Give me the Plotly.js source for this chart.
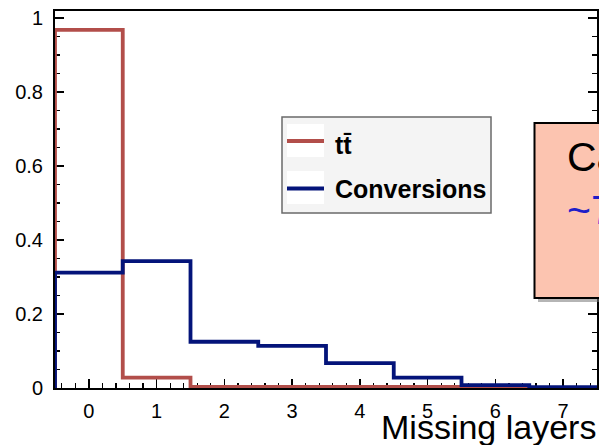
<!DOCTYPE html>
<html><head><meta charset="utf-8">
<script src="https://cdn.plot.ly/plotly-3.0.1.min.js"></script>
<style>html,body{margin:0;padding:0;background:#fff}#chart{width:599px;height:445px}</style>
</head><body><div id="chart"></div>
<script>
// ---- data ----
const bins = [0, 1, 2, 3, 4, 5, 6, 7];
const ttbar = [0.968, 0.028, 0.003, 0.003, 0.003, 0.003, 0.003, 0.0];
const conversions = [0.312, 0.343, 0.125, 0.114, 0.067, 0.028, 0.008, 0.002];
const seriesNames = ['t t\u0304', 'Conversions'];
const xTickVals = [0, 1, 2, 3, 4, 5, 6, 7];
const yTickVals = [0, 0.2, 0.4, 0.6, 0.8, 1];
const yTickText = ['0', '0.2', '0.4', '0.6', '0.8', '1'];
const xTitle = 'Missing layers';
const boxLine1 = 'Ca';
const boxLine2 = '~7';

// ---- helpers ----
function stepXY(centers, vals) {
  const xs = [centers[0] - 0.5], ys = [0];
  centers.forEach((c, i) => { xs.push(c - 0.5); ys.push(vals[i]); });
  const last = centers[centers.length - 1] + 0.5;
  xs.push(last); ys.push(vals[vals.length - 1]);
  xs.push(last); ys.push(0);
  return { xs, ys };
}
const PL = 55, PR = 597, PT = 11, PB = 388;
const px = x => (x - PL) / (PR - PL);
const py = y => (PB - y) / (PB - PT);

const RED = 'rgb(178,78,74)';
const BLUE = 'rgb(4,20,122)';

const s1 = stepXY(bins, ttbar);
const s2 = stepXY(bins, conversions);

const traces = [
  { x: s1.xs, y: s1.ys, type: 'scatter', mode: 'lines', line: { shape: 'hv', color: RED, width: 3.8 }, name: seriesNames[0] },
  { x: s2.xs, y: s2.ys, type: 'scatter', mode: 'lines', line: { shape: 'hv', color: BLUE, width: 3.8 }, name: seriesNames[1] }
];

function rect(x0, y0, x1, y1, fill, lc, lw) {
  return { type: 'rect', xref: 'paper', yref: 'paper', x0: px(x0), x1: px(x1), y0: py(y1), y1: py(y0),
    fillcolor: fill, line: { color: lc, width: lw }, layer: 'above' };
}
function hline(x0, x1, y, color, w) {
  return { type: 'line', xref: 'paper', yref: 'paper', x0: px(x0), x1: px(x1), y0: py(y), y1: py(y),
    line: { color: color, width: w }, layer: 'above' };
}

const shapes = [
  // legend box
  rect(282, 117, 491, 213, '#f4f4f4', '#6a6a6a', 1.5),
  rect(287, 124, 324, 157, '#ffffff', 'rgba(0,0,0,0)', 0),
  rect(287, 171, 324, 204, '#ffffff', 'rgba(0,0,0,0)', 0),
  hline(287, 324, 141, RED, 4),
  hline(287, 324, 188.5, BLUE, 4),
  // pink callout box with shadow
  rect(538, 127, 620, 302, 'rgba(120,120,120,0.55)', 'rgba(0,0,0,0)', 0),
  rect(534.5, 123, 620, 298, 'rgb(252,196,176)', '#000', 2)
];

const annotations = [
  { xref: 'paper', yref: 'paper', x: px(333), y: py(145), xanchor: 'left', yanchor: 'middle', showarrow: false,
    text: '<b>' + seriesNames[0].replace(' ', '') + '</b>', font: { size: 25, color: '#000', family: 'Liberation Sans, Arial, sans-serif' } },
  { xref: 'paper', yref: 'paper', x: px(333), y: py(189), xanchor: 'left', yanchor: 'middle', showarrow: false,
    text: '<b>' + seriesNames[1] + '</b>', font: { size: 25, color: '#000', family: 'Liberation Sans, Arial, sans-serif' } },
  { xref: 'paper', yref: 'paper', x: px(565), y: py(157), xanchor: 'left', yanchor: 'middle', showarrow: false,
    text: boxLine1, font: { size: 41, color: '#000', family: 'Liberation Sans, Arial, sans-serif' } },
  { xref: 'paper', yref: 'paper', x: px(565), y: py(210), xanchor: 'left', yanchor: 'middle', showarrow: false,
    text: boxLine2, font: { size: 41, color: 'rgb(30,30,200)', family: 'Liberation Sans, Arial, sans-serif' } },
  { xref: 'paper', yref: 'paper', x: px(598), y: py(427), xanchor: 'right', yanchor: 'middle', showarrow: false,
    text: xTitle, font: { size: 34, color: '#000', family: 'Liberation Sans, Arial, sans-serif' } }
];

const layout = {
  width: 599, height: 445,
  margin: { l: PL, r: 599 - PR, t: PT, b: 445 - PB, pad: 0 },
  paper_bgcolor: '#fff', plot_bgcolor: '#fff',
  showlegend: false,
  font: { family: 'Liberation Sans, Arial, sans-serif', color: '#000' },
  xaxis: {
    range: [-0.5, 7.5], tickmode: 'array', tickvals: xTickVals, ticktext: xTickVals.map(String),
    ticks: 'inside', ticklen: 9, tickwidth: 1.4, tickcolor: '#000',
    showline: true, linecolor: '#000', linewidth: 2, mirror: true,
    showgrid: false, zeroline: false, tickfont: { size: 20, color: '#000' },
    ticklabelstandoff: 4,
    minor: { tick0: 0, dtick: 0.2, ticks: 'inside', ticklen: 5, tickcolor: '#000', tickwidth: 1.2, showgrid: false },
    layer: 'below traces', fixedrange: true
  },
  yaxis: {
    range: [0, 1.019], tickmode: 'array', tickvals: yTickVals, ticktext: yTickText,
    ticks: 'inside', ticklen: 9, tickwidth: 1.4, tickcolor: '#000',
    showline: true, linecolor: '#000', linewidth: 2, mirror: 'allticks',
    showgrid: false, zeroline: false, tickfont: { size: 20, color: '#000' },
    ticklabelstandoff: 6,
    minor: { tick0: 0, dtick: 0.05, ticks: 'inside', ticklen: 5, tickcolor: '#000', tickwidth: 1.2, showgrid: false },
    layer: 'below traces', fixedrange: true
  },
  shapes: shapes,
  annotations: annotations
};

Plotly.newPlot('chart', traces, layout, { displayModeBar: false, staticPlot: true });
</script>
</body></html>
